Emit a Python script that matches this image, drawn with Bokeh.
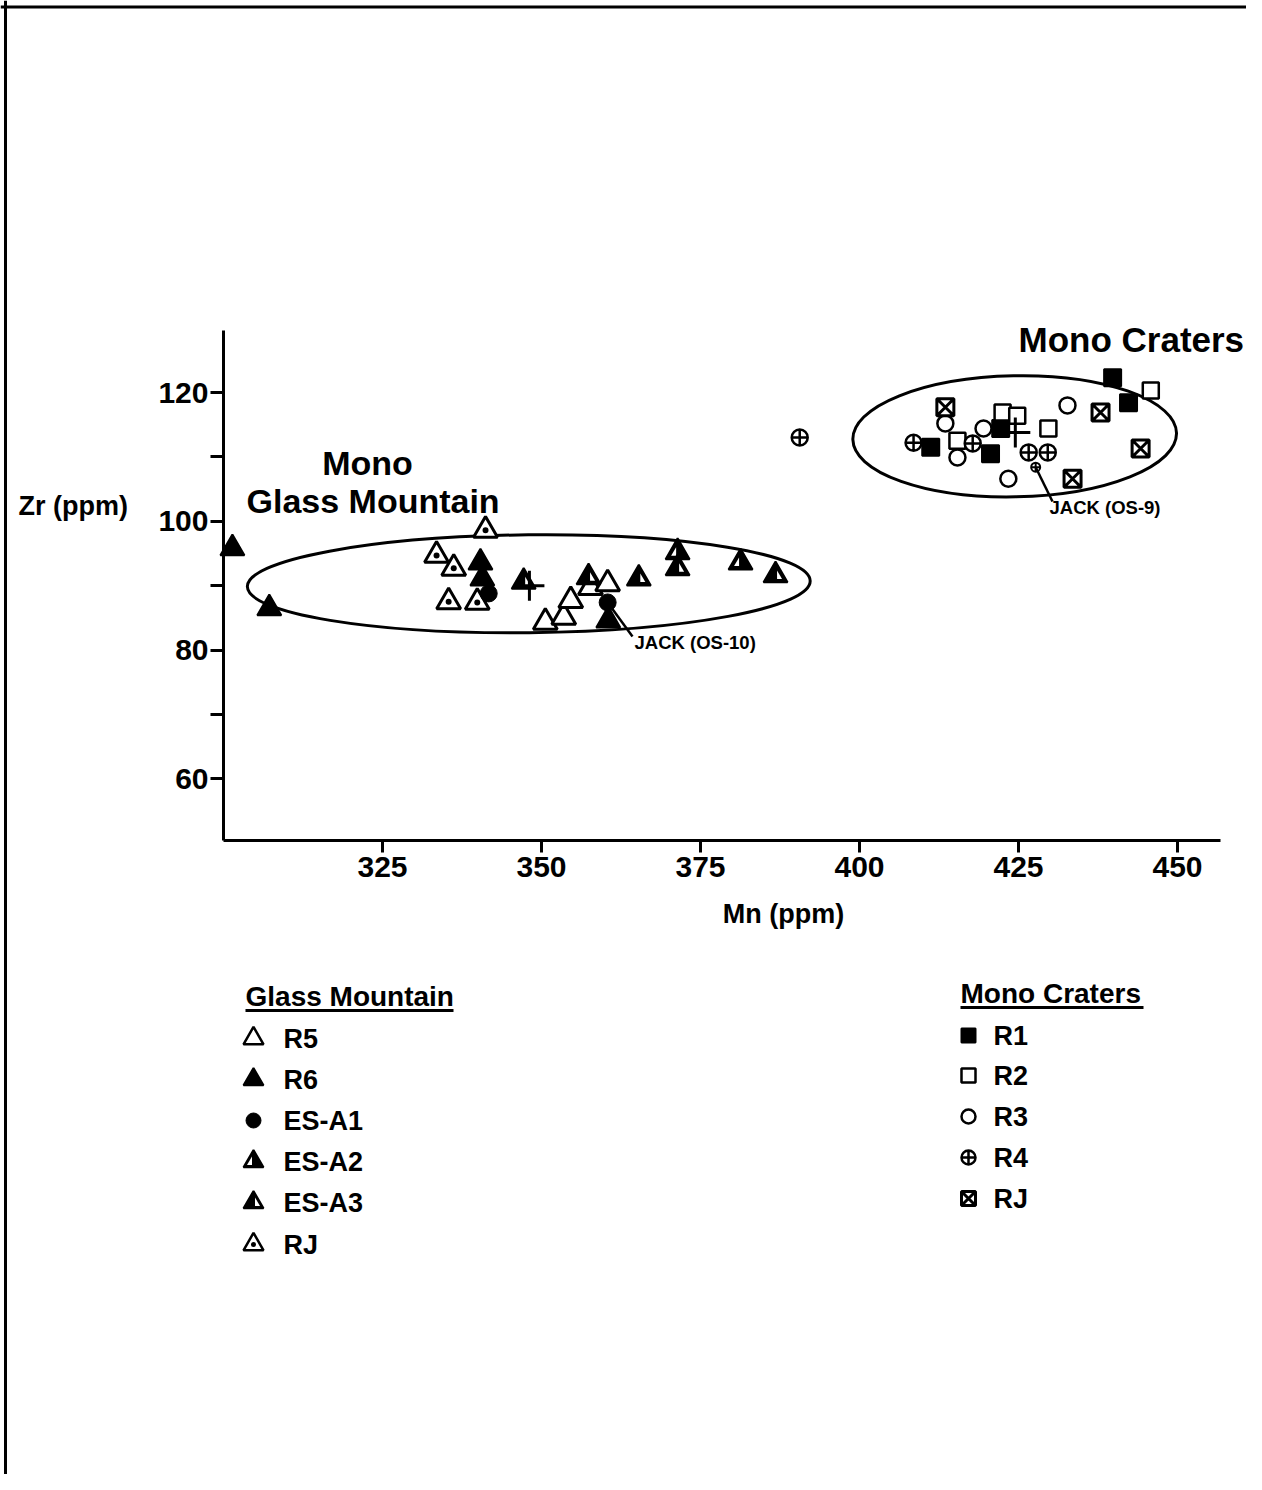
from bokeh.plotting import figure
from bokeh.models import Range1d, FixedTicker, Label, Span
from bokeh.embed import file_html
from bokeh.resources import INLINE

# ---------------- data ----------------
# Glass Mountain groups: Mn (ppm), Zr (ppm)
gm_r5_mn = [350.6, 353.5, 354.6, 357.7, 360.4]
gm_r5_zr = [84.3, 85.1, 87.7, 89.7, 90.3]
gm_r6_mn = [301.4, 307.2, 340.4, 340.7, 360.5]
gm_r6_zr = [95.8, 86.5, 93.6, 91.1, 84.6]
gm_esa1_mn = [341.7, 360.4]
gm_esa1_zr = [88.8, 87.4]
gm_esa2_mn = [371.4, 381.3]
gm_esa2_zr = [95.2, 93.6]
gm_esa3_mn = [347.2, 357.4, 365.3, 371.4, 386.8]
gm_esa3_zr = [90.6, 91.3, 91.1, 92.7, 91.6]
gm_rj_mn = [341.2, 333.5, 336.2, 335.4, 339.9]
gm_rj_zr = [98.6, 94.7, 92.7, 87.5, 87.4]

# Mono Craters groups
mc_r1_mn = [439.8, 442.3, 422.2, 411.2, 420.6]
mc_r1_zr = [122.3, 118.4, 114.4, 111.5, 110.5]
mc_r2_mn = [445.8, 422.5, 424.8, 429.7, 415.4]
mc_r2_zr = [120.3, 116.9, 116.4, 114.4, 112.5]
mc_r3_mn = [432.7, 413.5, 419.5, 415.4, 423.4]
mc_r3_zr = [118.0, 115.2, 114.4, 109.9, 106.6]
mc_r4_mn = [408.5, 417.8, 426.6, 429.6, 390.6]
mc_r4_zr = [112.2, 112.1, 110.7, 110.7, 113.0]
mc_rj_mn = [437.9, 413.5, 433.5, 444.2]
mc_rj_zr = [116.9, 117.7, 106.6, 111.3]

# Jack obsidian samples (OS-10 = ES-A1 type, OS-9 = R4 type)
jack_labels = ["JACK (OS-10)", "JACK (OS-9)"]
jack_mn = [360.4, 427.7]
jack_zr = [87.4, 108.4]

# group means (crosses)
mean_mn = [348.1, 424.5]
mean_zr = [90.0, 113.8]

# source ellipses
ell_mn = [348.0, 424.4]
ell_zr = [90.3, 113.2]
ell_w = [88.5, 50.9]
ell_h = [15.2, 18.8]
ell_angle = [0.01, 0.02]

x_ticks = [325, 350, 375, 400, 425, 450]
y_ticks = [60, 80, 100, 120]
y_minor = [70, 90, 110]
x_bounds = (300, 456.8)
y_bounds = (50.4, 129.6)

gm_legend = ["R5", "R6", "ES-A1", "ES-A2", "ES-A3", "RJ"]
mc_legend = ["R1", "R2", "R3", "R4", "RJ"]

# ---------------- layout helpers ----------------
W, H = 1246, 1474
ORG = 0
PXX, PXY = 6.36, 6.44
x_start = 325 - (382 - ORG) / PXX
x_end = x_start + W / PXX
y_end = 120 + (392 - ORG) / PXY
y_start = y_end - H / PXY


def X(px):
    return x_start + (px - ORG) / PXX


def Y(py):
    return y_end - (py - ORG) / PXY


FONT = "Liberation Sans"
INK = "black"

p = figure(width=W, height=H, x_range=Range1d(x_start, x_end),
           y_range=Range1d(y_start, y_end), output_backend="svg",
           toolbar_location=None, tools="",
           min_border_left=0, min_border_right=0, min_border_top=0, min_border_bottom=0)
p.outline_line_color = None
p.grid.visible = False
p.background_fill_color = "white"

# axes
xa = p.xaxis[0]
xa.fixed_location = y_bounds[0]
xa.bounds = x_bounds
xa.ticker = FixedTicker(ticks=x_ticks)
ya = p.yaxis[0]
ya.fixed_location = x_bounds[0]
ya.bounds = y_bounds
ya.ticker = FixedTicker(ticks=y_ticks, minor_ticks=y_minor)
for ax in (xa, ya):
    ax.axis_line_width = 3
    ax.axis_line_color = INK
    ax.major_tick_line_width = 3
    ax.major_tick_line_color = INK
    ax.minor_tick_line_width = 3
    ax.minor_tick_line_color = INK
    ax.major_tick_in = 0
    ax.minor_tick_in = 0
    ax.major_label_text_font = FONT
    ax.major_label_text_font_style = "bold"
    ax.major_label_text_font_size = "30px"
    ax.major_label_text_color = INK
xa.major_tick_out = 12
xa.minor_tick_out = 0
xa.major_label_standoff = 4
ya.major_tick_out = 13
ya.minor_tick_out = 13
ya.major_label_standoff = 2

# frame border (left & top)
p.add_layout(Span(location=Y(6.5), dimension="width", line_color=INK, line_width=3))
p.add_layout(Span(location=X(5), dimension="height", line_color=INK, line_width=3))

# ellipses
p.ellipse(x=ell_mn, y=ell_zr, width=ell_w, height=ell_h, angle=ell_angle,
          fill_color=None, line_color=INK, line_width=3)

TRI = 24


def notch_patches(xs, ys, side):
    # white notch inside a filled triangle marker; offsets in screen px
    pts = [(1.5, 3.5), (6.5, 3.5), (1.5, -5.0)]
    pxs, pys = [], []
    for x, y in zip(xs, ys):
        pxs.append([x + side * ox / PXX for ox, oy in pts])
        pys.append([y - oy / PXY for ox, oy in pts])
    return pxs, pys


def half_tri(xs, ys, side, size=TRI):
    p.scatter(xs, ys, marker="triangle", size=size, fill_color=INK,
              line_color=INK, line_width=2)
    nx, ny = notch_patches(xs, ys, side)
    p.patches(nx, ny, fill_color="white", line_color=None)


# Glass Mountain markers
p.scatter(gm_r5_mn, gm_r5_zr, marker="triangle", size=TRI, fill_color="white",
          line_color=INK, line_width=3)
p.scatter(gm_rj_mn, gm_rj_zr, marker="triangle_dot", size=TRI, fill_color="white",
          line_color=INK, line_width=3)
p.scatter(gm_r6_mn, gm_r6_zr, marker="triangle", size=TRI, fill_color=INK,
          line_color=INK, line_width=2)
half_tri(gm_esa2_mn, gm_esa2_zr, -1)
half_tri(gm_esa3_mn, gm_esa3_zr, 1)
p.scatter(gm_esa1_mn, gm_esa1_zr, marker="circle", size=17, fill_color=INK,
          line_color=INK)

# Mono Craters markers
p.scatter(mc_r1_mn, mc_r1_zr, marker="square", size=17, fill_color=INK,
          line_color=INK, line_width=2)
p.scatter(mc_r2_mn, mc_r2_zr, marker="square", size=16, fill_color="white",
          line_color=INK, line_width=2.5)
p.scatter(mc_r3_mn, mc_r3_zr, marker="circle", size=16, fill_color="white",
          line_color=INK, line_width=2.5)
p.scatter(mc_r4_mn, mc_r4_zr, marker="circle_cross", size=16, fill_color="white",
          line_color=INK, line_width=2.5)
p.scatter(mc_rj_mn, mc_rj_zr, marker="square_x", size=17, fill_color="white",
          line_color=INK, line_width=3)
p.scatter(jack_mn[1:], jack_zr[1:], marker="circle_cross", size=9, fill_color="white",
          line_color=INK, line_width=2)

# group means
p.scatter(mean_mn, mean_zr, marker="cross", size=30, line_color=INK, line_width=3)

# Jack leader lines and labels
jack_line_end = [(632, 636), (1052, 501)]
jack_text_pos = [(634, 642), (1049, 507)]
p.segment(x0=jack_mn, y0=jack_zr,
          x1=[X(a) for a, b in jack_line_end], y1=[Y(b) for a, b in jack_line_end],
          line_color=INK, line_width=2.5)
for t, (tx, ty) in zip(jack_labels, jack_text_pos):
    p.add_layout(Label(x=X(tx), y=Y(ty), text=t, text_font=FONT, text_font_style="bold",
                       text_font_size="18.5px", text_color=INK,
                       text_align="left", text_baseline="middle"))


def label(x, y, text, size, align="left"):
    p.add_layout(Label(x=X(x), y=Y(y), text=text, text_font=FONT, text_font_style="bold",
                       text_font_size=size, text_color=INK,
                       text_align=align, text_baseline="middle"))


# region titles
label(1018, 339, "Mono Craters", "35px")
label(367, 462, "Mono", "34px", "center")
label(246, 500, "Glass Mountain", "34px")

# axis titles
label(18, 505, "Zr (ppm)", "27px")
label(783, 913, "Mn (ppm)", "27px", "center")

# ---------------- legends ----------------
LFS = "27px"


def heading(x, y, text, ulen):
    label(x, y, text, "28px")
    p.segment(x0=[X(x)], y0=[Y(y + 14)], x1=[X(x + ulen)], y1=[Y(y + 14)],
              line_color=INK, line_width=3)


heading(245, 996, "Glass Mountain", 208)
heading(960, 993, "Mono Craters", 183)

gm_ys = [1038, 1079, 1120, 1161, 1202, 1244]
mc_ys = [1035, 1075, 1116, 1157, 1198]
gx, mx = 253, 968
LT = 20
for lab, yy in zip(gm_legend, gm_ys):
    label(283, yy, lab, LFS)
lx, ly = X(gx), [Y(v) for v in gm_ys]
p.scatter([lx], [ly[0]], marker="triangle", size=LT, fill_color="white", line_color=INK, line_width=2.5)
p.scatter([lx], [ly[1]], marker="triangle", size=LT, fill_color=INK, line_color=INK, line_width=2)
p.scatter([lx], [ly[2]], marker="circle", size=15, fill_color=INK, line_color=INK)
half_tri([lx], [ly[3]], -1, LT)
half_tri([lx], [ly[4]], 1, LT)
p.scatter([lx], [ly[5]], marker="triangle_dot", size=LT, fill_color="white", line_color=INK, line_width=2.5)

for lab, yy in zip(mc_legend, mc_ys):
    label(993, yy, lab, LFS)
mlx, mly = X(mx), [Y(v) for v in mc_ys]
p.scatter([mlx], [mly[0]], marker="square", size=14, fill_color=INK, line_color=INK, line_width=2)
p.scatter([mlx], [mly[1]], marker="square", size=14, fill_color="white", line_color=INK, line_width=2.5)
p.scatter([mlx], [mly[2]], marker="circle", size=14, fill_color="white", line_color=INK, line_width=2.5)
p.scatter([mlx], [mly[3]], marker="circle_cross", size=14, fill_color="white", line_color=INK, line_width=2.5)
p.scatter([mlx], [mly[4]], marker="square_x", size=14, fill_color="white", line_color=INK, line_width=3)

open("out.html", "w").write(file_html(p, INLINE))
